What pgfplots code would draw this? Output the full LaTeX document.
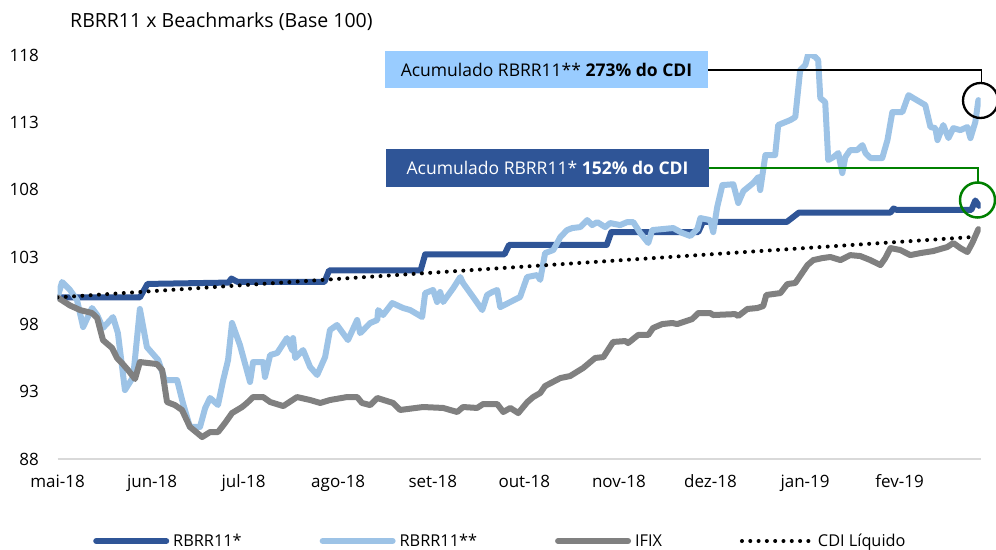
\documentclass[border=0pt]{standalone}
\usepackage{fontspec}
\setmainfont{Open Sans}
\usepackage{pgfplots}
\pgfplotsset{compat=1.18}

\definecolor{rbdark}{HTML}{2F5597}
\definecolor{rblight}{HTML}{9DC3E6}
\definecolor{ifixgray}{HTML}{808080}
\definecolor{boxlight}{HTML}{99CCFF}
\definecolor{axisgray}{HTML}{D9D9D9}
\definecolor{greenline}{HTML}{008000}

% x = days since 01/05/2018
\pgfplotstableread{
d v
0 100.0
27 100.0
29.5 101.0
56 101.1
57 101.4
59 101.15
87.5 101.15
89 102.0
119 102.0
120.5 103.2
146.5 103.2
148 103.9
180 103.9
181.5 104.85
210 104.85
211.5 105.6
239 105.6
243 106.3
273 106.3
274 106.6
275 106.5
299.5 106.5
300.8 107.2
302 106.8
}\rbrrA

\pgfplotstableread{
d v
0 100.0
1.5 101.14
4.1 100.55
6.4 99.8
8.4 97.8
11.3 99.21
13 98.69
14.9 97.73
18.2 98.54
19.8 97.35
22.1 93.12
24.8 94.09
27 99.14
29.3 96.31
33 95.35
35.2 93.86
39.2 93.86
41.1 92.16
43.4 90.38
46.7 90.38
48.4 91.79
50 92.53
52.6 92.01
54.3 93.86
55.9 95.35
57.2 98.1
59.8 96.46
63.1 93.72
64.1 95.2
67.4 95.2
68 94.09
69.7 95.72
72 95.87
75.2 96.98
76.9 96.09
77.2 96.98
77.9 95.5
80.5 96.09
82.8 94.83
85.1 94.24
87.7 95.57
89.3 97.58
91.6 97.95
95.2 96.83
98.2 98.32
99.2 97.35
102.5 98.1
104.8 98.32
105.1 99.06
106.7 98.69
109.7 99.58
113.3 99.21
115.6 99.06
119.5 98.54
120.5 100.32
123.1 100.55
124.4 99.66
125.4 100.4
126.4 99.66
129.7 100.69
132 101.51
132.9 101.07
136.2 100.03
139.2 99.06
140.8 100.18
142.5 100.4
144.1 100.55
145.1 99.28
148.4 99.66
151.6 100.03
153.9 101.51
157.2 101.66
158.2 101.3
159.8 103.29
162.5 103.52
164.8 104.48
167 105.0
168.7 105.15
171.3 105.22
173.6 105.74
175.2 105.37
176.9 105.59
179.5 105.22
181.1 105.52
184.4 105.37
186.7 105.59
188.7 105.59
191 104.78
193.6 104.04
194.9 105.0
198.2 105.07
201.8 105.15
204.8 104.78
207.4 104.56
209.7 105.07
210.7 105.89
213.9 105.74
214.9 104.85
216.2 106.7
217.9 108.34
221.5 108.4
223.1 107.01
224.8 107.9
228 108.49
229.7 108.94
230.3 107.97
232 110.57
235.2 110.57
236.2 112.8
240.2 113.17
241.8 113.39
243.4 116.88
245.1 117.25
246.1 118.14
248.4 117.84
249.3 117.62
250 114.8
251.6 114.5
252.6 110.2
254.3 110.42
255.9 110.72
257.2 109.23
258.2 110.42
259.8 110.94
262.1 110.94
263.8 111.31
264.8 110.72
266.4 110.35
270.3 110.35
272 111.68
273.6 113.76
276.9 113.76
278.9 115.02
280.5 114.8
284.4 114.28
286.1 112.65
287.7 112.57
288.4 111.68
290.3 112.8
292 111.83
293.6 112.57
295.9 112.42
298.2 112.65
299.2 111.83
300.8 113.02
301.8 114.65
}\rbrrB

\pgfplotstableread{
d v
0 100.0
4.1 99.4
7.4 99.06
11.3 98.84
13 98.47
14.9 96.83
17.9 96.24
19.5 95.5
21.1 95.13
23.1 94.61
25.4 93.94
27 95.2
32.6 95.05
34.3 94.61
35.9 92.23
38.5 92.0
40.8 91.64
43.4 90.38
47.4 89.63
50 90.0
52.6 90.0
54.9 90.67
57.2 91.41
60.5 91.86
62.1 92.16
64.1 92.6
67.4 92.6
69.7 92.23
74 91.93
78.5 92.6
82.8 92.38
86.1 92.16
89.3 92.38
94.9 92.6
98.2 92.6
99.8 92.16
102.5 92.0
104.8 92.53
110 92.16
112.3 91.64
119.8 91.86
126.4 91.79
131 91.49
132.9 91.86
137.5 91.79
139.5 92.08
144.1 92.08
146.1 91.49
148.4 91.79
151 91.41
154 92.23
155.9 92.6
158.2 92.9
159.8 93.42
164.8 94.01
168 94.16
172.3 94.76
176.2 95.5
178.9 95.57
182.1 96.69
186.1 96.76
187 96.61
190.3 97.21
193.6 97.21
195.2 97.73
198.2 98.02
201.5 98.1
203.1 98.02
208 98.39
210 98.84
213.9 98.84
214.9 98.69
222.1 98.76
223.1 98.62
226.1 99.14
229.3 99.21
231.3 99.36
232.3 100.18
236.9 100.32
239.2 100.99
241.8 101.07
245.8 102.4
247.7 102.77
250.7 102.92
253.3 103.0
256.6 102.77
259.8 103.14
263.1 103.07
266.4 102.77
269.7 102.4
271.3 102.92
273 103.66
276.2 103.52
279.5 103.14
282.8 103.29
287 103.44
291.6 103.74
293.6 104.04
295.9 103.66
298.2 103.37
299.8 104.04
301.8 105.07
}\ifix

\begin{document}
\begin{tikzpicture}
\useasboundingbox (0,0) rectangle (996bp,550bp);
\begin{axis}[
  at={(57.5bp,91bp)}, anchor=south west,
  scale only axis, width=923bp, height=404bp,
  xmin=0, xmax=302.5, ymin=88, ymax=118,
  axis x line*=bottom, axis y line*=left,
  y axis line style={draw=none},
  x axis line style={draw=axisgray, line width=1.5bp},
  major tick length=0pt,
  xtick={0,31,61,92,123,153,184,214,245,276},
  xticklabels={mai-18,jun-18,jul-18,ago-18,set-18,out-18,nov-18,dez-18,jan-19,fev-19},
  ytick={88,93,98,103,108,113,118},
  yticklabels={88,93,98,103,108,113,118},
  tick label style={font=\fontsize{17bp}{20bp}\selectfont, text=black, inner sep=0pt},
  xticklabel style={anchor=base, yshift=-29bp},
  yticklabel style={anchor=east, xshift=-18.5bp},
  legend columns=4,
  legend style={at={(axis description cs:0.0385,-0.203)}, anchor=west,
    draw=none, fill=none, inner sep=0pt,
    font=\fontsize{16.3bp}{20bp}\selectfont,
    nodes={inner sep=0pt},
    /tikz/every odd column/.append style={column sep=4bp},
    /tikz/every even column/.append style={column sep=78bp}},
  legend image code/.code={\draw[#1] (0bp,0bp) -- (70bp,0bp);},
  every axis plot/.append style={line cap=round, line join=round},
]
\addplot[rbdark, line width=6bp] table[x=d, y=v] {\rbrrA};
\addplot[rblight, line width=6bp] table[x=d, y=v] {\rbrrB};
\addplot[ifixgray, line width=6bp] table[x=d, y=v] {\ifix};
\addplot[black, line width=4bp, dash pattern=on 0bp off 8.3bp] coordinates {(0,100.0) (301,104.5)};
\legend{RBRR11*, RBRR11**, IFIX, CDI Líquido}
\end{axis}

\node[anchor=west, inner sep=0pt, font=\fontsize{19.5bp}{23bp}\selectfont] at (70bp,528bp) {RBRR11 x Beachmarks (Base 100)};

\fill[boxlight] (385bp,462bp) rectangle (708bp,499bp);
\node[font=\fontsize{17.5bp}{21bp}\selectfont] at (546.5bp,480.5bp) {Acumulado RBRR11** \textbf{273\% do CDI}};
\draw[black, line width=1.3bp] (708bp,480bp) -- (981.7bp,480bp) -- (981.7bp,466bp);
\draw[black, line width=2.3bp] (980.5bp,449.5bp) circle (17.5bp);

\fill[rbdark] (386bp,363bp) rectangle (709bp,401bp);
\node[text=white, font=\fontsize{17.5bp}{21bp}\selectfont] at (547.5bp,382bp) {Acumulado RBRR11* \textbf{152\% do CDI}};
\draw[greenline, line width=1.5bp] (709bp,382bp) -- (978bp,382bp) -- (978bp,368bp);
\draw[greenline, line width=2.5bp] (977.5bp,350bp) circle (17.5bp);
\end{tikzpicture}
\end{document}
